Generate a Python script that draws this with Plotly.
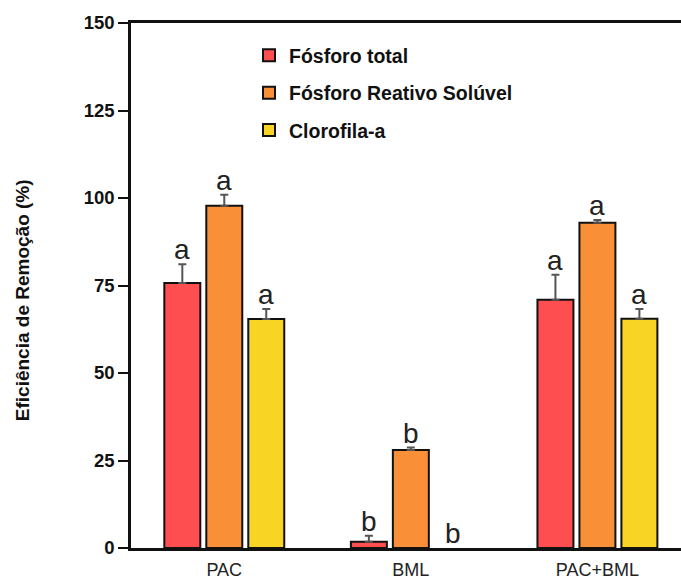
import plotly.graph_objects as go

# Treatment groups and measured series
groups = ["PAC", "BML", "PAC+BML"]
series_names = ["Fósforo total", "Fósforo Reativo Solúvel", "Clorofila-a"]
fosforo_total = [75.7, 1.8, 70.9]
fosforo_total_err = [5.4, 1.7, 7.2]
fosforo_reativo = [97.8, 28.0, 92.9]
fosforo_reativo_err = [3.1, 0.7, 0.8]
clorofila = [65.4, 0.0, 65.5]
clorofila_err = [2.9, 0.0, 2.8]
letters_total = ["a", "b", "a"]
letters_reativo = ["a", "b", "a"]
letters_clorofila = ["a", "b", "a"]
y_ticks = [0, 25, 50, 75, 100, 125, 150]

colors = ["#FE4E50", "#F98F37", "#F8D425"]
values = [fosforo_total, fosforo_reativo, clorofila]
errors = [fosforo_total_err, fosforo_reativo_err, clorofila_err]
letters = [letters_total, letters_reativo, letters_clorofila]

FONT = "Liberation Sans, Arial, sans-serif"

fig = go.Figure()
for i, name in enumerate(series_names):
    # a zero result leaves an empty slot (no outline, no error cap)
    y_plot = [v if v > 0 else None for v in values[i]]
    fig.add_trace(go.Bar(
        x=groups, y=y_plot, name=name,
        legendgroup=f"g{i}",
        marker=dict(color=colors[i], line=dict(color="#111111", width=2)),
        error_y=dict(type="data", array=errors[i], arrayminus=[0] * len(groups),
                     symmetric=False, color="#555555", thickness=2, width=4),
    ))

# Significance letters above each bar
bargap = 0.325
slot = (1 - bargap) / 3
annotations = []
for i in range(3):
    offset = (i - 1) * slot
    for j in range(len(groups)):
        top = values[i][j] + errors[i][j]
        annotations.append(dict(
            x=j + offset, y=top, xref="x", yref="y",
            text=letters[i][j], showarrow=False,
            yanchor="bottom", xanchor="center", yshift=-3,
            font=dict(family=FONT, size=28, color="#222222"),
        ))

annotations.append(dict(
    text="Eficiência de Remoção (%)", textangle=-90,
    xref="paper", yref="paper", x=(22 - 131) / 550, y=0.472,
    xanchor="center", yanchor="middle", showarrow=False,
    font=dict(family=FONT, size=19, color="#111111", weight="bold"),
))

fig.update_layout(
    width=681, height=579,
    margin=dict(l=131, r=0, t=23, b=31),
    paper_bgcolor="white", plot_bgcolor="white",
    barmode="group", bargap=bargap, bargroupgap=0.143,
    showlegend=True,
    legend=dict(
        x=0.2145, y=0.975, xanchor="left", yanchor="top",
        font=dict(family=FONT, size=19.5, color="#111111", weight="bold"),
        tracegroupgap=9, bgcolor="rgba(0,0,0,0)", borderwidth=0,
    ),
    annotations=annotations,
    xaxis=dict(
        range=[-0.5, 2.448], showline=True, linecolor="#111111", linewidth=2.5,
        mirror=True, ticks="", showgrid=False, zeroline=False, automargin=False,
        ticklabelstandoff=4,
        tickfont=dict(family=FONT, size=18, color="#222222"),
    ),
    yaxis=dict(
        range=[0, 150], tickvals=y_ticks, showline=True, linecolor="#111111",
        linewidth=2.5, ticks="outside", ticklen=10, tickwidth=2, tickcolor="#111111",
        showgrid=False, zeroline=False, automargin=False,
        tickfont=dict(family=FONT, size=18.5, color="#111111", weight="bold"),
    ),
)

fig.write_html("out.html")
